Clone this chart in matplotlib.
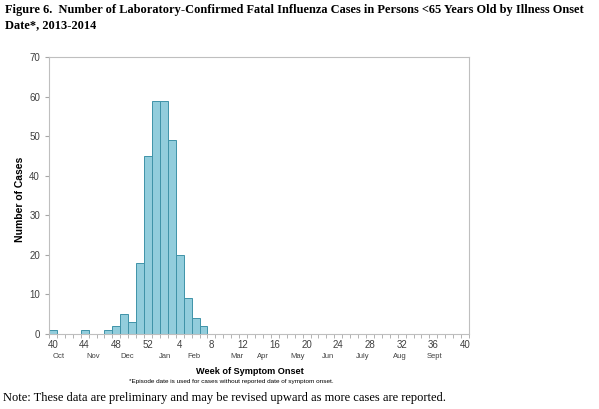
import matplotlib.pyplot as plt
import numpy as np

# weeks 40..52 of 2013, then 1..40 of 2014
weeks = list(range(40, 53)) + list(range(1, 41))
cases = [1, 0, 0, 0, 1, 0, 0, 1, 2, 5, 3, 18, 45,
         59, 59, 49, 20, 9, 4, 2] + [0] * 33
tick_weeks = [40, 44, 48, 52, 4, 8, 12, 16, 20, 24, 28, 32, 36, 40]
months = ["Oct", "Nov", "Dec", "Jan", "Feb", "Mar", "Apr", "May",
          "Jun", "July", "Aug", "Sept"]
month_x = [59, 93, 127, 165, 194, 237, 263, 298, 328, 363, 400, 435]

fig = plt.figure(figsize=(5.99, 4.09), dpi=100)
ax = fig.add_axes([0.0818, 0.1834, 0.7012, 0.6772])

x = np.arange(len(weeks))
ax.bar(x, cases, width=1.0, color="#92cddc", edgecolor="#3f93a8", linewidth=0.7)

ax.set_xlim(-0.5, len(weeks) - 0.5)
ax.set_ylim(0, 70)
ax.set_yticks(range(0, 71, 10))

# labelled ticks every 4 weeks (at bar centres), small ticks between bars
tick_pos = [0, 4, 8, 12, 16, 20, 24, 28, 32, 36, 40, 44, 48, 52]
ax.set_xticks(tick_pos)
ax.set_xticklabels([str(w) for w in tick_weeks])
ax.set_xticks(np.arange(-0.5, len(weeks), 1), minor=True)
ax.tick_params(axis="x", which="major", length=0, labelsize=7, colors="#404040", pad=4)
ax.tick_params(axis="x", which="minor", length=3, color="#a6a6a6", direction="out")
ax.tick_params(axis="y", length=3, labelsize=7, colors="#404040", color="#a6a6a6")
for lbl in ax.get_xticklabels() + ax.get_yticklabels():
    lbl.set_fontfamily("Liberation Sans")

for s in ax.spines.values():
    s.set_color("#bfbfbf")
    s.set_linewidth(0.8)

fig.text(20 / 599, 1 - 199 / 409, "Number of Cases", fontsize=7.5, fontweight="bold",
         rotation=90, ha="center", va="center", fontfamily="Liberation Sans")

for m, mx in zip(months, month_x):
    fig.text(mx / 599, 1 - 356 / 409, m, fontsize=5.5, color="#404040",
             ha="center", va="center", fontfamily="Liberation Sans")

fig.text(250 / 599, 1 - 371 / 409, "Week of Symptom Onset", fontsize=6.6,
         fontweight="bold", ha="center", va="center", fontfamily="Liberation Sans")
fig.text(231 / 599, 1 - 382 / 409,
         "*Episode date is used for cases without reported date of symptom onset.",
         fontsize=4.6, ha="center", va="center", fontfamily="Liberation Sans")

fig.text(5 / 599, 1 - 4 / 409,
         "Figure 6.  Number of Laboratory-Confirmed Fatal Influenza Cases in Persons <65 Years Old by Illness Onset\nDate*, 2013-2014",
         fontsize=8.9, fontweight="bold", ha="left", va="top",
         fontfamily="Liberation Serif", linespacing=1.3)
fig.text(3 / 599, 1 - 398 / 409,
         "Note: These data are preliminary and may be revised upward as more cases are reported.",
         fontsize=9, ha="left", va="center", fontfamily="Liberation Serif")

fig.savefig("out.png", dpi=100)
